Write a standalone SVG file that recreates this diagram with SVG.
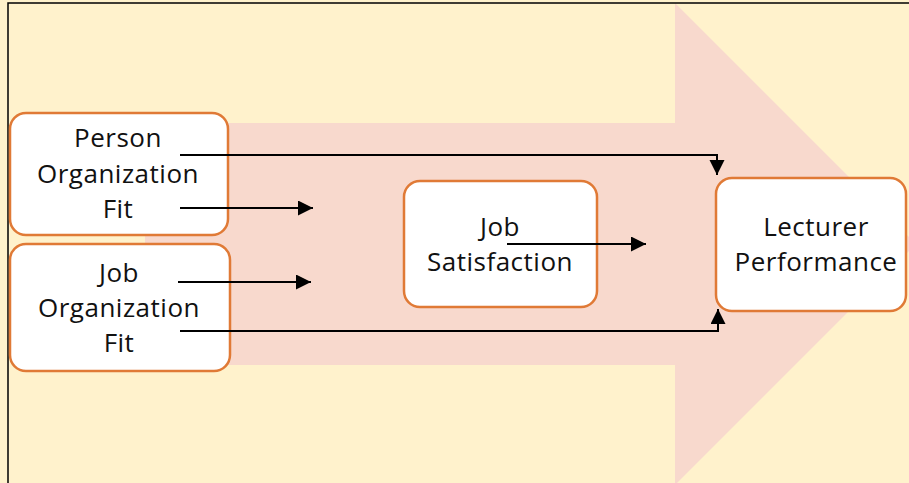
<svg xmlns="http://www.w3.org/2000/svg" width="909" height="483" viewBox="0 0 909 483">
<defs>
<style>
.box{fill:#FFFFFF;stroke:#E07A36;stroke-width:2.5}
.lbl{font-family:"Open Sans","Liberation Sans",sans-serif;font-size:26px;letter-spacing:0.5px;fill:#111111;text-anchor:middle}
.con{fill:none;stroke:#000000;stroke-width:2}
</style>
<marker id="ah" markerUnits="userSpaceOnUse" markerWidth="16" markerHeight="16" refX="15" refY="7.5" orient="auto">
<path d="M0,0 L15,7.5 L0,15 Z" fill="#000000"/>
</marker>
</defs>
<rect x="0" y="0" width="909" height="483" fill="#FFF2CC"/>
<path d="M145,123 H675 V3 L916,244 L675,485 V365 H145 Z" fill="#F8D9CD"/>
<path d="M8,483 V3 H909" fill="none" stroke="#000000" stroke-width="1.5"/>
<g id="node-pof">
<rect class="box" x="10" y="113" width="218" height="122" rx="16"/>
<text class="lbl" x="118" y="147">Person</text>
<text class="lbl" x="118" y="183">Organization</text>
<text class="lbl" x="118" y="218">Fit</text>
</g>
<g id="node-jof">
<rect class="box" x="10" y="244" width="220" height="127" rx="16"/>
<text class="lbl" x="119" y="282">Job</text>
<text class="lbl" x="119" y="317">Organization</text>
<text class="lbl" x="119" y="352">Fit</text>
</g>
<g id="node-js">
<rect class="box" x="404" y="181" width="193" height="126" rx="16"/>
<text class="lbl" x="500" y="236">Job</text>
<text class="lbl" x="500" y="271">Satisfaction</text>
</g>
<g id="node-lp">
<rect class="box" x="716" y="178" width="190" height="133" rx="16"/>
<text class="lbl" x="816" y="236">Lecturer</text>
<text class="lbl" x="816" y="271">Performance</text>
</g>
<g id="connectors">
<path class="con" d="M180,155 H717 V175" marker-end="url(#ah)"/>
<path class="con" d="M180,208 H313" marker-end="url(#ah)"/>
<path class="con" d="M178,282 H311" marker-end="url(#ah)"/>
<path class="con" d="M180,331 H718 V309" marker-end="url(#ah)"/>
<path class="con" d="M507,244 H646" marker-end="url(#ah)"/>
</g>
</svg>
